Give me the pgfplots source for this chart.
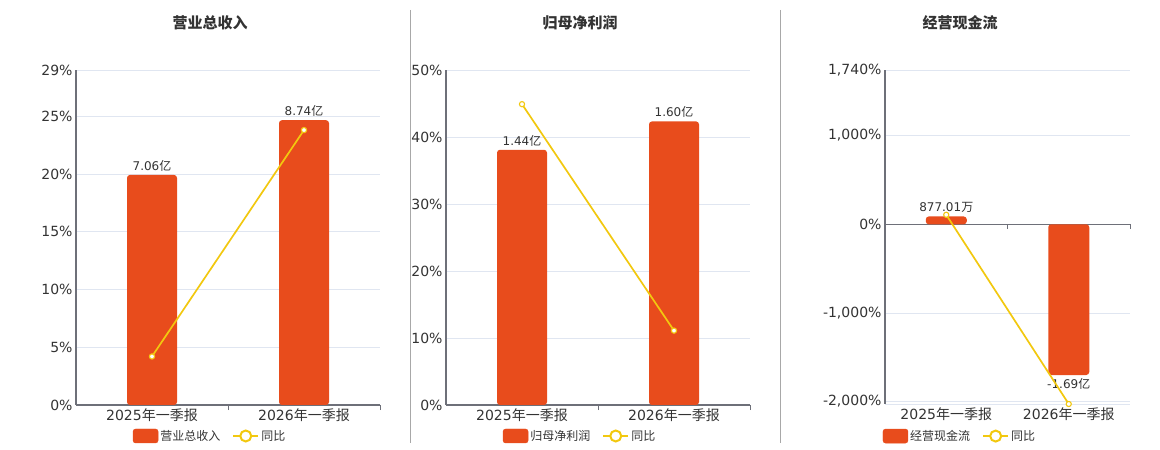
\documentclass[border=0pt]{standalone}
\usepackage{fontspec}
\setmainfont{DejaVu Sans}
\newfontfamily\cjk{Noto Sans CJK SC}
\usepackage{pgfplots}
\pgfplotsset{compat=1.18}
\definecolor{barred}{HTML}{E84C1C}
\definecolor{lineyel}{HTML}{F2C80F}
\definecolor{gridc}{HTML}{E0E6F1}
\definecolor{axc}{HTML}{6E7079}
\definecolor{txt}{HTML}{333333}
\definecolor{sepc}{HTML}{A8A8A8}
\pgfplotsset{
  common/.style={scale only axis, anchor=south west, xmin=-0.5, xmax=1.5, clip=false},
  baraxis/.style={common, hide axis, ybar, bar width=50pt, bar shift=0pt},
  barplot/.style={fill=barred, draw=none, rounded corners=3pt,
    nodes near coords, point meta=explicit symbolic,
    nodes near coords style={font=\fontsize{12}{12}\selectfont, text=txt, rounded corners=0pt}},
  lineaxis/.style={common,
    axis x line*=bottom, axis y line*=left,
    axis line style={axc, line width=1.2pt},
    ymajorgrids, grid style={gridc, line width=0.8pt},
    xtick={0,1}, xtick style={draw=none}, ytick style={draw=none},
    xticklabels={{2025{\cjk 年一季报}},{2026{\cjk 年一季报}}},
    ticklabel style={font=\fontsize{14}{14}\selectfont, text=txt},
    /pgf/number format/assume math mode=true,
    /pgf/number format/fixed,
    /pgf/number format/1000 sep={,},
    yticklabel={\pgfmathprintnumber{\tick}\%},
    legend columns=2,
    legend style={draw=none, fill=none, font=\fontsize{12}{12}\selectfont, text=txt,
      /tikz/every even column/.append style={column sep=10pt}},
  },
  linestyle/.style={lineyel, line width=1.7pt, mark=*, mark size=2.6pt,
    mark options={fill=white, draw=lineyel, line width=1.1pt}},
  barleg/.style={legend image code/.code={\fill[barred, rounded corners=2.5pt] (0pt,-7pt) rectangle (25pt,7pt);}},
  lineleg/.style={legend image code/.code={\draw[lineyel, line width=2pt] (0pt,0pt) -- (25pt,0pt);
     \draw[lineyel, line width=2pt, fill=white] (12.5pt,0pt) circle (5.5pt);}},
}
\begin{document}
\begin{tikzpicture}
\path[use as bounding box] (0,0) rectangle (1160pt,450pt);
% separators
\draw[sepc, line width=1pt] (410.5pt,440pt) -- (410.5pt,7pt);
\draw[sepc, line width=1pt] (780.5pt,440pt) -- (780.5pt,7pt);
% titles
\node[font=\cjk\bfseries\fontsize{15}{15}\selectfont, text=txt] at (210pt,427pt) {营业总收入};
\node[font=\cjk\bfseries\fontsize{15}{15}\selectfont, text=txt] at (580pt,427pt) {归母净利润};
\node[font=\cjk\bfseries\fontsize{15}{15}\selectfont, text=txt] at (960pt,427pt) {经营现金流};

% ---------- Panel 1 ----------
\begin{axis}[lineaxis, at={(76pt,45pt)}, width=304pt, height=335pt,
  ymin=0, ymax=29, ytick={0,5,10,15,20,25,29},
  extra x ticks={0.5,1.5}, extra x tick labels={},
  extra x tick style={xtick style={draw=axc, line width=1pt}, major tick length=5pt, tick align=outside}]
\end{axis}
\begin{axis}[baraxis, at={(76pt,45pt)}, width=304pt, height=335pt, ymin=0, ymax=10.28]
\addplot[barplot] coordinates {(0,7.06) [7.06{\cjk 亿}] (1,8.74) [8.74{\cjk 亿}]};
\end{axis}
\begin{axis}[lineaxis, at={(76pt,45pt)}, width=304pt, height=335pt,
  ymin=0, ymax=29, ytick={0,5,10,15,20,25,29}, hide axis,
  legend style={at={(0.441,-0.0925)}, anchor=center}]
\addlegendimage{barleg}\addlegendentry{{\cjk 营业总收入}}
\addlegendimage{lineleg}\addlegendentry{{\cjk 同比}}
\addplot[linestyle] coordinates {(0,4.2) (1,23.8)};
\end{axis}

% ---------- Panel 2 ----------
\begin{axis}[lineaxis, at={(446pt,45pt)}, width=304pt, height=335pt,
  ymin=0, ymax=50, ytick={0,10,20,30,40,50},
  extra x ticks={0.5,1.5}, extra x tick labels={},
  extra x tick style={xtick style={draw=axc, line width=1pt}, major tick length=5pt, tick align=outside}]
\end{axis}
\begin{axis}[baraxis, at={(446pt,45pt)}, width=304pt, height=335pt, ymin=0, ymax=1.89]
\addplot[barplot] coordinates {(0,1.44) [1.44{\cjk 亿}] (1,1.60) [1.60{\cjk 亿}]};
\end{axis}
\begin{axis}[lineaxis, at={(446pt,45pt)}, width=304pt, height=335pt,
  ymin=0, ymax=50, hide axis,
  legend style={at={(0.441,-0.0925)}, anchor=center}]
\addlegendimage{barleg}\addlegendentry{{\cjk 归母净利润}}
\addlegendimage{lineleg}\addlegendentry{{\cjk 同比}}
\addplot[linestyle] coordinates {(0,44.9) (1,11.1)};
\end{axis}

% ---------- Panel 3 ----------
\begin{axis}[lineaxis, at={(885pt,46pt)}, width=245pt, height=334pt,
  ymin=-2027, ymax=1740, ytick={-2000,-1000,0,1000,1740},
  x axis line style={gridc, line width=0.8pt}]
\draw[axc, line width=1.2pt] (axis cs:-0.5,0) -- (axis cs:1.5,0);
\draw[axc, line width=1pt] (axis cs:0.5,0) -- ++(0pt,-5pt);
\draw[axc, line width=1pt] (axis cs:1.5,0) -- ++(0pt,-5pt);
\end{axis}
\begin{axis}[baraxis, bar width=41pt, at={(885pt,46pt)}, width=245pt, height=334pt, ymin=-2.015, ymax=1.730]
\addplot[barplot] coordinates {(0,0.087701) [877.01{\cjk 万}]};
\addplot[barplot, nodes near coords style={anchor=north}] coordinates {(1,-1.69) [-1.69{\cjk 亿}]};
\end{axis}
\begin{axis}[lineaxis, at={(885pt,46pt)}, width=245pt, height=334pt,
  ymin=-2027, ymax=1740, hide axis,
  legend style={at={(0.306,-0.096)}, anchor=center}]
\addlegendimage{barleg}\addlegendentry{{\cjk 经营现金流}}
\addlegendimage{lineleg}\addlegendentry{{\cjk 同比}}
\addplot[linestyle] coordinates {(0,107) (1,-2027)};
\end{axis}
\end{tikzpicture}
\end{document}
